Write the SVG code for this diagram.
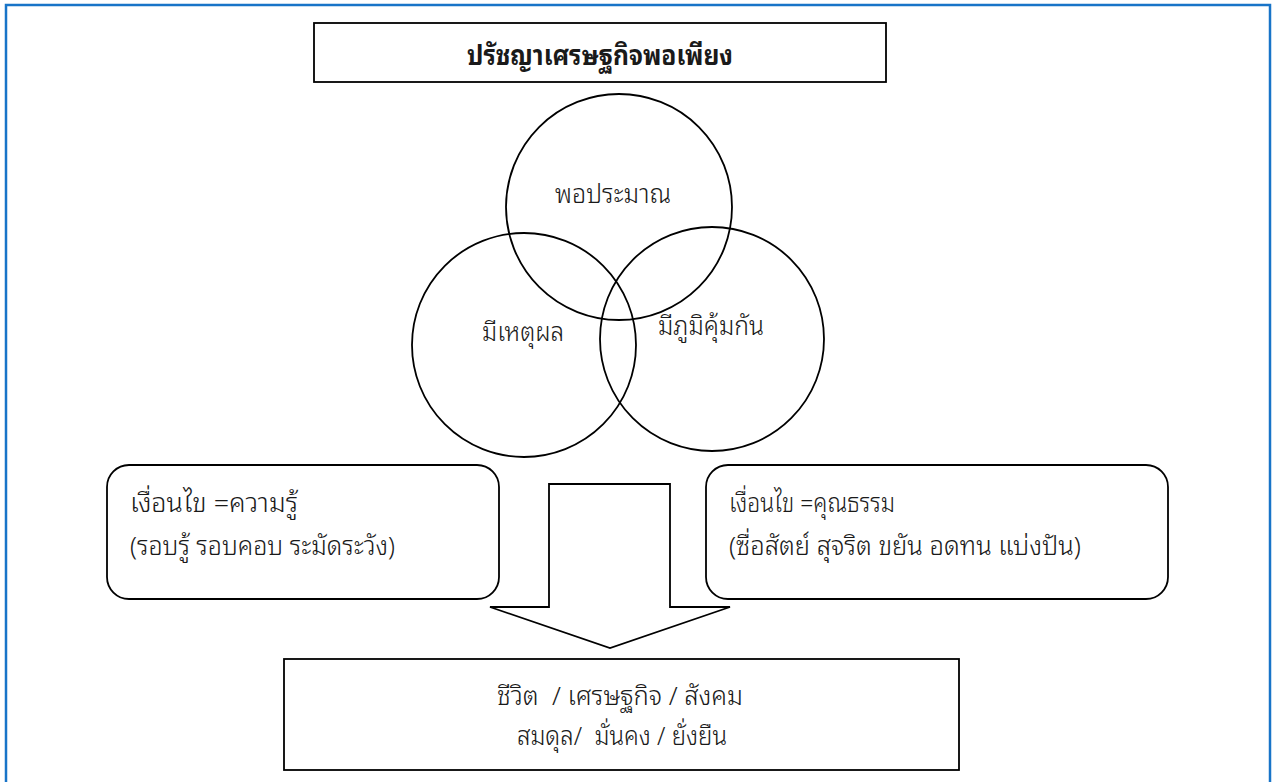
<svg xmlns="http://www.w3.org/2000/svg" width="1272" height="782" viewBox="0 0 1272 782">
<style>
.ln{fill:#fff;stroke:#000;stroke-width:1.8}
.cl{fill:none;stroke:#000;stroke-width:1.8}
.t{font-family:"Noto Sans Thai Looped","Noto Sans Thai","Noto Sans",sans-serif;font-size:26px;font-weight:300;fill:#1a1a1a;white-space:pre}
.c{text-anchor:middle}
.b{font-weight:bold;font-size:27px}
</style>
<rect width="1272" height="782" fill="#fff"/>
<rect x="6" y="5" width="1264" height="820" fill="none" stroke="#1874C8" stroke-width="2.5"/>
<g id="title">
<rect class="ln" x="314" y="23" width="572" height="59" stroke-width="2.2"/>
<text class="t c b" x="600" y="65" textLength="266" lengthAdjust="spacingAndGlyphs">ปรัชญาเศรษฐกิจพอเพียง</text>
</g>
<g id="circle-top">
<circle class="cl" cx="619" cy="207" r="113"/>
<text class="t c" x="613" y="203" textLength="116" lengthAdjust="spacingAndGlyphs">พอประมาณ</text>
</g>
<g id="circle-left">
<circle class="cl" cx="524" cy="345" r="112"/>
<text class="t c" x="523" y="341" textLength="82" lengthAdjust="spacingAndGlyphs">มีเหตุผล</text>
</g>
<g id="circle-right">
<circle class="cl" cx="712" cy="339" r="112"/>
<text class="t c" x="711" y="335" textLength="106" lengthAdjust="spacingAndGlyphs">มีภูมิคุ้มกัน</text>
</g>
<g id="knowledge">
<rect class="ln" x="107" y="465" width="392" height="134" rx="22"/>
<text class="t" x="130" y="512" textLength="168" lengthAdjust="spacingAndGlyphs">เงื่อนไข =ความรู้</text>
<text class="t" x="130" y="555" textLength="265" lengthAdjust="spacingAndGlyphs">(รอบรู้ รอบคอบ ระมัดระวัง)</text>
</g>
<g id="virtue">
<rect class="ln" x="706" y="465" width="462" height="134" rx="22"/>
<text class="t" x="729" y="512" textLength="166" lengthAdjust="spacingAndGlyphs">เงื่อนไข =คุณธรรม</text>
<text class="t" x="729" y="555" textLength="352" lengthAdjust="spacingAndGlyphs">(ซื่อสัตย์ สุจริต ขยัน อดทน แบ่งปัน)</text>
</g>
<g id="connectors">
<polygon class="ln" points="549,484 670,484 670,607 730,607 610,648 490,607 549,607"/>
</g>
<g id="result">
<rect class="ln" x="284" y="659" width="675" height="111"/>
<text class="t c" x="620" y="705" textLength="246" lengthAdjust="spacingAndGlyphs">ชีวิต  / เศรษฐกิจ / สังคม</text>
<text class="t c" x="622" y="745" textLength="210" lengthAdjust="spacingAndGlyphs">สมดุล/  มั่นคง / ยั่งยืน</text>
</g>
</svg>
